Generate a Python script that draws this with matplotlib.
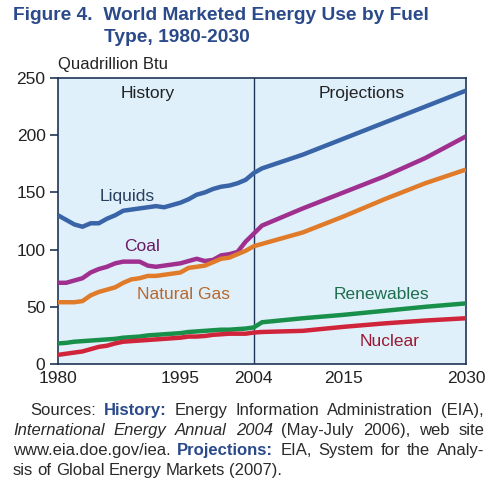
import numpy as np
import matplotlib.pyplot as plt

plt.rcParams['font.family'] = ['Liberation Sans', 'DejaVu Sans']

# History, yearly 1980-2004
hist_years = list(range(1980, 2005))
liquids_hist = [130, 126, 122, 120, 123, 123, 127, 130, 134, 135, 136, 137, 138,
                137, 139, 141, 144, 148, 150, 153, 155, 156, 158, 161, 167]
coal_hist = [71, 71, 73, 75, 80, 83, 85, 88, 89.5, 89.5, 89.5, 86, 85,
             86, 87, 88, 90, 92, 90, 91, 95, 96, 98, 107, 114]
gas_hist = [54, 54, 54, 55, 60, 63, 65, 67, 71, 74, 75, 77, 77,
            78, 79, 80, 84, 85, 86, 89, 92, 93, 96, 99, 103]
renew_hist = [18, 18.5, 19.5, 20, 20.5, 21, 21.5, 22, 23, 23.5, 24, 25, 25.5,
              26, 26.5, 27, 28, 28.5, 29, 29.5, 30, 30, 30.5, 31, 32]
nuclear_hist = [8, 9, 10, 11, 13, 15, 16, 18, 19.5, 20, 20.5, 21, 21.5,
                22, 22.5, 23, 24, 24, 24.5, 25.5, 26, 26.5, 26.5, 26.5, 27.5]

# Projections 2004-2030
proj_years = [2004, 2005, 2010, 2015, 2020, 2025, 2030]
liquids_proj = [167, 171, 183, 197, 211, 225, 239]
coal_proj = [114, 121, 136, 150, 164, 180, 199]
gas_proj = [103, 105, 115, 129, 144, 158, 170]
renew_proj = [32, 36.5, 40, 43, 46.5, 50, 53]
nuclear_proj = [27.5, 28, 29, 32.5, 35.5, 38, 40]

xticks = [1980, 1995, 2004, 2015, 2030]
yticks = [0, 50, 100, 150, 200, 250]

series = [
    ("Liquids", liquids_hist, liquids_proj, "#3a64a8", "#28405e", 100, 196),
    ("Coal", coal_hist, coal_proj, "#a0308f", "#6a1a60", 124, 246),
    ("Natural Gas", gas_hist, gas_proj, "#e07b2a", "#b8682e", 137, 294),
    ("Renewables", renew_hist, renew_proj, "#18904a", "#1e6e4e", 334, 294),
    ("Nuclear", nuclear_hist, nuclear_proj, "#d0243a", "#9a1830", 360, 341),
]

fig = plt.figure(figsize=(5, 4.86), dpi=100)
ax = fig.add_axes([0.116, 0.251, 0.816, 0.5885])
ax.set_facecolor("#dff0fb")

frame = "#1f3556"
for s in ax.spines.values():
    s.set_color(frame)
    s.set_linewidth(1.2)

for name, h, p, lc, tc, tx, ty in series:
    ax.plot(hist_years + proj_years[1:], h + p[1:], color=lc, lw=3.2,
            solid_joinstyle="round", solid_capstyle="butt", zorder=3)
    fig.text(tx / 500, 1 - ty / 486, name, color=tc, fontsize=12.5,
             ha="left", va="center")

ax.axvline(2004, color=frame, lw=1)
ax.set_xlim(1980, 2030)
ax.set_ylim(0, 250)
ax.set_xticks(xticks)
ax.set_yticks(yticks)
ax.tick_params(axis="x", length=0, pad=5, labelsize=12.5, labelcolor="#222222")
ax.tick_params(axis="y", length=6, width=1.2, color=frame, pad=3,
               labelsize=12.5, labelcolor="#222222")

ax.text(1991, 243, "History", ha="center", va="top", fontsize=12.5, color="#222222")
ax.text(2017.2, 243, "Projections", ha="center", va="top", fontsize=12.5, color="#222222")

fig.text(58 / 500, 1 - 65 / 486, "Quadrillion Btu", fontsize=12,
         color="#222222", va="center", ha="left")

title_c = "#2b4a8a"
fig.text(13 / 500, 1 - 16 / 486, "Figure 4.  World Marketed Energy Use by Fuel",
         fontsize=13.8, fontweight="bold", color=title_c, va="center", ha="left")
fig.text(104 / 500, 1 - 38 / 486, "Type, 1980-2030",
         fontsize=13.8, fontweight="bold", color=title_c, va="center", ha="left")

# source note, justified between x0 and x1 (pixels)
src_c = "#2a2a2a"
navy = "#2b4a8a"
fs = 12
N, B, I = "normal", "bold", "italic"
note = [
    (30, True, [("Sources:", N, src_c), ("History:", B, navy), ("Energy", N, src_c),
                ("Information", N, src_c), ("Administration", N, src_c), ("(EIA),", N, src_c)]),
    (13, True, [("International", I, src_c), ("Energy", I, src_c), ("Annual", I, src_c),
                ("2004", I, src_c), ("(May-July", N, src_c), ("2006),", N, src_c),
                ("web", N, src_c), ("site", N, src_c)]),
    (13, True, [("www.eia.doe.gov/iea.", N, src_c), ("Projections:", B, navy),
                ("EIA,", N, src_c), ("System", N, src_c), ("for", N, src_c),
                ("the", N, src_c), ("Analy-", N, src_c)]),
    (13, False, [("sis", N, src_c), ("of", N, src_c), ("Global", N, src_c),
                 ("Energy", N, src_c), ("Markets", N, src_c), ("(2007).", N, src_c)]),
]
x_right = 484
renderer = fig.canvas.get_renderer()
for i, (x0, justify, words) in enumerate(note):
    y = 1 - (410 + 20 * i) / 486
    texts = []
    for w, st, c in words:
        kw = dict(fontsize=fs, color=c, va="center", ha="left")
        if st == B:
            kw["fontweight"] = "bold"
        elif st == I:
            kw["style"] = "italic"
        texts.append(fig.text(0, y, w, **kw))
    widths = [t.get_window_extent(renderer).width for t in texts]
    if justify:
        gap = (x_right - x0 - sum(widths)) / (len(texts) - 1)
    else:
        gap = 4.2
    x = x0
    for t, wd in zip(texts, widths):
        t.set_x(x / 500)
        x += wd + gap

fig.savefig("out.png", dpi=100)
